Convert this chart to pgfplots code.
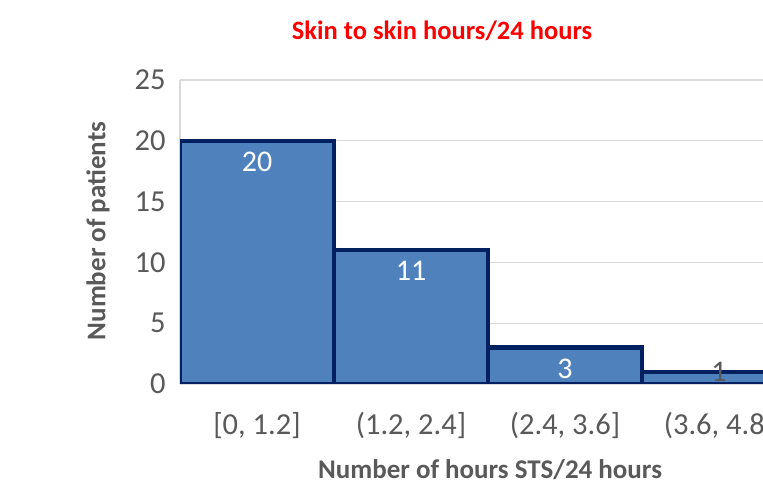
\documentclass[border=0pt]{standalone}
\usepackage{pgfplots}
\pgfplotsset{compat=1.18}
\usepackage{fontspec}
\setmainfont{Carlito}
\definecolor{barfill}{RGB}{79,129,189}
\definecolor{baredge}{RGB}{0,32,96}
\definecolor{txt}{RGB}{89,89,89}
\definecolor{gridc}{RGB}{217,217,217}
\begin{document}
\begin{tikzpicture}
\path[use as bounding box, clip] (0pt,0pt) rectangle (763pt,492pt);
\begin{axis}[
  at={(180pt,108pt)}, anchor=south west,
  scale only axis, width=616pt, height=304pt,
  xmin=0, xmax=4, ymin=0, ymax=25,
  ytick={0,5,...,25},
  xtick={0.5,1.5,2.5,3.5},
  xticklabels={{[0, 1.2]},{(1.2, 2.4]},{(2.4, 3.6]},{(3.6, 4.8]}},
  ymajorgrids, grid style={gridc, line width=1.2pt},
  axis x line*=bottom, axis y line*=left,
  axis line style={gridc, line width=1.5pt, -},
  major tick length=0pt,
  /pgf/number format/assume math mode=true,
  ticklabel style={font=\fontsize{30.5}{33}\selectfont, text=txt},
  yticklabel style={xshift=-11pt},
  xticklabel style={yshift=-25pt},
  ybar, bar width=1, bar shift=0pt,
]
\addplot[fill=barfill, draw=baredge, line width=4.5pt,
  nodes near coords,
  nodes near coords style={text=white, anchor=center, yshift=-21pt, font=\fontsize{30}{33}\selectfont}]
  coordinates {(0.5,20) (1.5,11) (2.5,3)};
\addplot[fill=barfill, draw=baredge, line width=4.5pt,
  nodes near coords,
  nodes near coords style={text=txt, anchor=center, yshift=0pt, font=\fontsize{30}{33}\selectfont}]
  coordinates {(3.5,1)};
\end{axis}
\node[text=red, font=\bfseries\fontsize{26.5}{30}\selectfont] at (442pt,461pt) {Skin to skin hours/24 hours};
\node[rotate=90, text=txt, font=\bfseries\fontsize{27}{30}\selectfont] at (98pt,261pt) {Number of patients};
\node[text=txt, font=\bfseries\fontsize{27}{30}\selectfont] at (490pt,22pt) {Number of hours STS/24 hours};
\end{tikzpicture}
\end{document}
